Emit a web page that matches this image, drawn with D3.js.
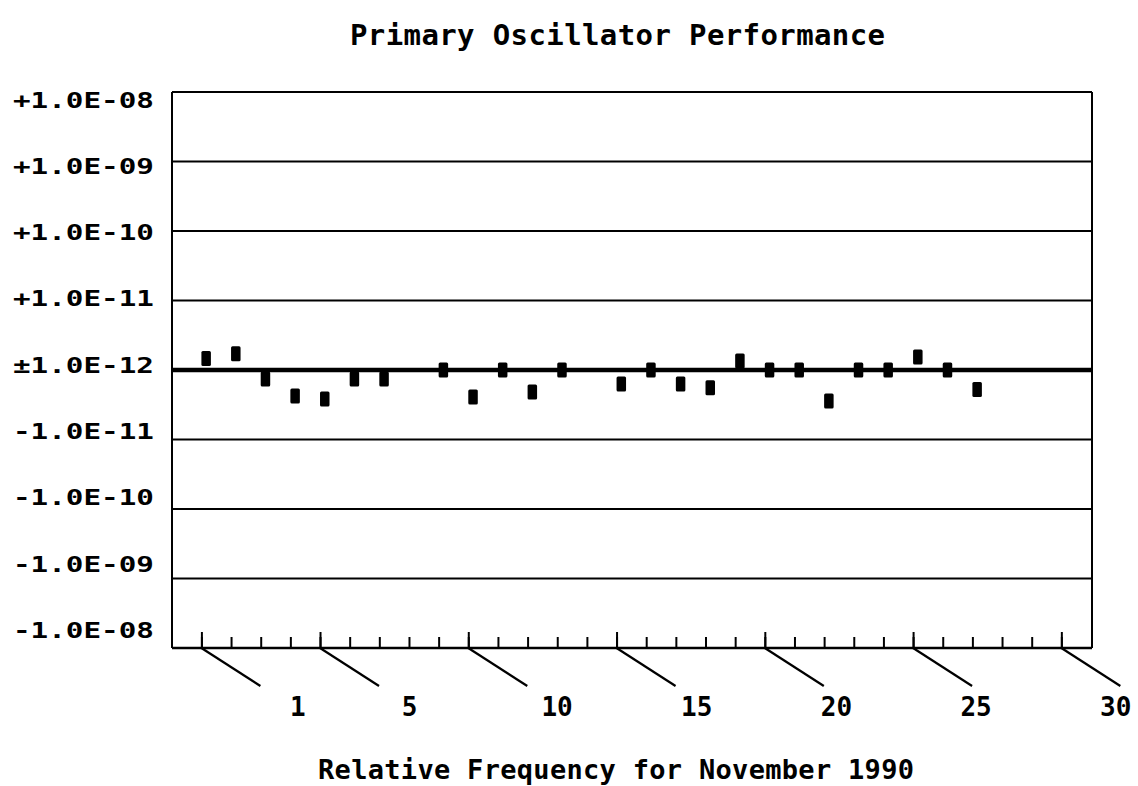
<!DOCTYPE html>
<html>
<head>
<meta charset="utf-8">
<script src="https://cdn.jsdelivr.net/npm/d3@7"></script>
<style>
  html, body { margin: 0; padding: 0; background: #fff; }
  svg { display: block; }
  text { font-family: "DejaVu Sans Mono", "Liberation Mono", monospace; font-weight: bold; fill: #000; }
</style>
</head>
<body>
<div id="chart"></div>
<script>
// ---- data ----
const title = "Primary Oscillator Performance";
const xTitle = "Relative Frequency for November 1990";
const days = [1, 2, 3, 4, 5, 6, 7, 9, 10, 11, 12, 13, 15, 16, 17, 18, 19, 20, 21, 22, 23, 24, 25, 26, 27];
const values = [1.46e-12, 1.71e-12, -1.35e-12, -2.36e-12, -2.61e-12, -1.35e-12, -1.35e-12, 0, -2.44e-12, 0,
                -2.07e-12, 0, -1.59e-12, 0, -1.59e-12, -1.80e-12, 1.35e-12, 0, 0, -2.79e-12,
                0, 0, 1.54e-12, 0, -1.91e-12];
const yTickDecades = [4, 3, 2, 1, 0, -1, -2, -3, -4];
const yTickLabels = ["+1.0E-08", "+1.0E-09", "+1.0E-10", "+1.0E-11", "\u00b11.0E-12", "-1.0E-11", "-1.0E-10", "-1.0E-09", "-1.0E-08"];
const xMinorTicks = d3.range(1, 31);
const xMajorTicks = [1, 5, 10, 15, 20, 25, 30];
const xTickLabels = ["1", "5", "10", "15", "20", "25", "30"];

(function () {
// ---- layout ----
const W = 1138, H = 786;
const svg = d3.select("#chart").append("svg").attr("width", W).attr("height", H);
svg.append("rect").attr("width", W).attr("height", H).attr("fill", "#fff");

const pLeft = 172, pRight = 1092, pTop = 92, pBottom = 648;
const x = d3.scaleLinear().domain([0, 31]).range([171.75, 1091]);
const y = d3.scaleLinear().domain([-4, 4]).range([pBottom, pTop]);
const yLab = d3.scaleLinear().domain([-4, 4]).range([630.5, 100]);
const tOf = v => v === 0 ? 0 : Math.sign(v) * Math.max(0, Math.log10(Math.abs(v) / 1e-12));

// gridlines
svg.append("g").selectAll("line").data(yTickDecades).join("line")
  .attr("x1", pLeft).attr("x2", pRight)
  .attr("y1", d => y(d)).attr("y2", d => y(d))
  .attr("stroke", "#000")
  .attr("stroke-width", d => d === 0 ? 4.5 : (d === -4 ? 2.5 : 2));

// frame verticals
svg.append("line").attr("x1", pLeft).attr("x2", pLeft).attr("y1", pTop).attr("y2", pBottom).attr("stroke", "#000").attr("stroke-width", 2);
svg.append("line").attr("x1", pRight).attr("x2", pRight).attr("y1", pTop).attr("y2", pBottom).attr("stroke", "#000").attr("stroke-width", 2);

// x axis ticks (upward)
const axMinor = svg.append("g").attr("transform", `translate(0,${pBottom - 1})`)
  .call(d3.axisBottom(x).tickValues(xMinorTicks).tickSize(-10).tickSizeOuter(0).tickFormat(""));
axMinor.select(".domain").remove();
const axMajor = svg.append("g").attr("transform", `translate(0,${pBottom - 1})`)
  .call(d3.axisBottom(x).tickValues(xMajorTicks).tickSize(-15).tickSizeOuter(0).tickFormat(""));
axMajor.select(".domain").remove();
svg.selectAll(".tick line").attr("stroke", "#000").attr("stroke-width", 2);

// diagonal leader lines
svg.append("g").selectAll("line").data(xMajorTicks).join("line")
  .attr("x1", d => x(d)).attr("y1", pBottom)
  .attr("x2", d => x(d) + 59).attr("y2", pBottom + 38)
  .attr("stroke", "#000").attr("stroke-width", 2.2);

// x tick labels
svg.append("g").selectAll("text").data(xMajorTicks).join("text")
  .attr("x", d => 100.3 + 0.942 * x(d))
  .attr("y", 716)
  .attr("font-size", 26)
  .text((d, i) => xTickLabels[i]);

// y tick labels
svg.append("g").selectAll("text").data(yTickDecades).join("text")
  .attr("x", 13)
  .attr("y", d => yLab(d) + 7.5)
  .attr("font-size", 21)
  .attr("textLength", 141)
  .attr("lengthAdjust", "spacingAndGlyphs")
  .text((d, i) => yTickLabels[i]);

// markers
svg.append("g").selectAll("rect").data(days).join("rect")
  .attr("x", d => x(d))
  .attr("y", (d, i) => y(tOf(values[i])) - 7.5)
  .attr("width", 9.5).attr("height", 15)
  .attr("rx", 1.5)
  .attr("fill", "#000");

// titles
svg.append("text").attr("x", 350).attr("y", 45).attr("font-size", 29)
  .attr("textLength", 535).attr("lengthAdjust", "spacing").text(title);
svg.append("text").attr("x", 318).attr("y", 779).attr("font-size", 27)
  .attr("textLength", 596).attr("lengthAdjust", "spacing").text(xTitle);
})();
</script>
</body>
</html>
